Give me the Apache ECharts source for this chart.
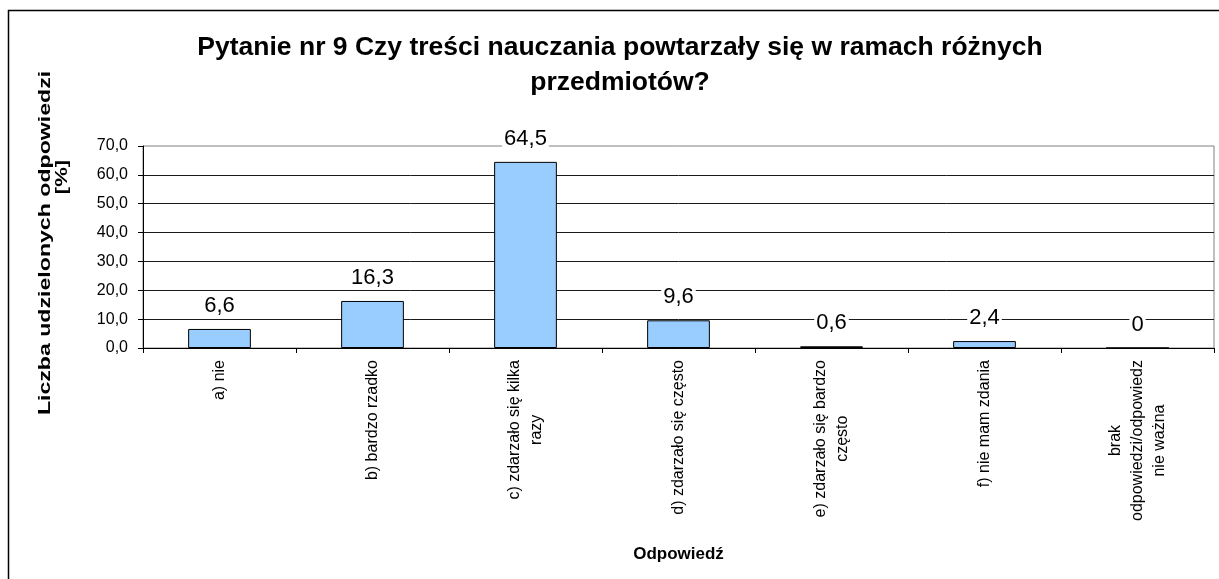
<!DOCTYPE html>
<html>
<head>
<meta charset="utf-8">
<script src="https://cdn.jsdelivr.net/npm/echarts@6/dist/echarts.min.js"></script>
<style>
  html, body { margin: 0; padding: 0; background: #fff; }
  #chart { width: 1219px; height: 579px; }
</style>
</head>
<body>
<div id="chart"></div>
<script>
var FONT = 'Arial, "Liberation Sans", sans-serif';

// odpowiedzi (kategorie osi X)
var categories = [
    'a) nie',
    'b) bardzo rzadko',
    'c) zdarzało się kilka\nrazy',
    'd) zdarzało się często',
    'e) zdarzało się bardzo\nczęsto',
    'f) nie mam zdania',
    'brak\nodpowiedzi/odpowiedz\nnie ważna'
];
// udział odpowiedzi [%]
var values = [6.6, 16.3, 64.5, 9.6, 0.6, 2.4, 0];

var titleText = 'Pytanie nr 9 Czy treści nauczania powtarzały się w ramach różnych\nprzedmiotów?';
var yName = ['Liczba udzielonych odpowiedzi', '[%]'];
var xName = 'Odpowiedź';

function comma(v) {
    return String(v).replace('.', ',');
}

var chart = echarts.init(document.getElementById('chart'));

var option = {
    backgroundColor: '#fff',
    animation: false,
    title: {
        text: titleText,
        left: 620,
        top: 30,
        padding: 0,
        textAlign: 'center',
        textStyle: {
            fontFamily: FONT,
            fontSize: 26.5,
            fontWeight: 'bold',
            lineHeight: 35,
            color: '#000'
        }
    },
    grid: {
        left: 143,
        top: 146,
        right: 5,
        bottom: 231,
        show: true,
        borderColor: '#808080',
        borderWidth: 1,
        backgroundColor: 'transparent'
    },
    graphic: [
        // ramka wykresu
        {
            type: 'rect',
            shape: { x: 8.5, y: 10.5, width: 1400, height: 800 },
            style: { fill: null, stroke: '#000', lineWidth: 1.5 },
            silent: true
        },
        // tytuł osi Y
        {
            type: 'text',
            x: 45, y: 243,
            rotation: Math.PI / 2,
            scaleX: 1.36,
            style: {
                text: yName[0],
                font: 'bold 17px ' + FONT,
                fill: '#000',
                align: 'center',
                verticalAlign: 'middle'
            }
        },
        {
            type: 'text',
            x: 62, y: 177,
            rotation: Math.PI / 2,
            scaleX: 1.3,
            style: {
                text: yName[1],
                font: 'bold 17px ' + FONT,
                fill: '#000',
                align: 'center',
                verticalAlign: 'middle'
            }
        }
    ],
    xAxis: {
        type: 'category',
        data: categories,
        name: xName,
        nameLocation: 'middle',
        nameGap: 198,
        nameTextStyle: {
            fontFamily: FONT,
            fontSize: 17,
            fontWeight: 'bold',
            color: '#000'
        },
        axisLine: { lineStyle: { color: '#000', width: 1 } },
        axisTick: { show: true, length: 5, alignWithLabel: false, lineStyle: { color: '#000' } },
        axisLabel: {
            interval: 0,
            rotate: 90,
            margin: 12,
            formatter: function(v) {
                return v.split('\n').map(function(s) { return '{c|' + s + '}'; }).join('\n');
            },
            rich: {
                c: {
                    fontFamily: FONT,
                    fontSize: 16,
                    lineHeight: 22,
                    color: '#000',
                    align: 'center'
                }
            }
        },
        splitLine: { show: false }
    },
    yAxis: {
        type: 'value',
        min: 0,
        max: 70,
        interval: 10,
        axisLine: { show: true, lineStyle: { color: '#000', width: 1 } },
        axisTick: { show: true, length: 5, lineStyle: { color: '#000' } },
        axisLabel: {
            margin: 15,
            fontFamily: FONT,
            fontSize: 16,
            color: '#000',
            formatter: function(v) { return v.toFixed(1).replace('.', ','); }
        },
        splitLine: {
            show: true,
            showMaxLine: false,
            lineStyle: { color: '#1a1a1a', width: 1 }
        }
    },
    series: [{
        type: 'bar',
        data: values,
        barWidth: '41%',
        itemStyle: {
            color: '#99CCFF',
            borderColor: '#000',
            borderWidth: 1
        },
        label: {
            show: true,
            position: 'top',
            distance: 12,
            fontFamily: FONT,
            fontSize: 22,
            color: '#000',
            backgroundColor: '#fff',
            padding: [0, 2],
            formatter: function(p) { return comma(p.value); }
        }
    }]
};

chart.setOption(option);
</script>
</body>
</html>
